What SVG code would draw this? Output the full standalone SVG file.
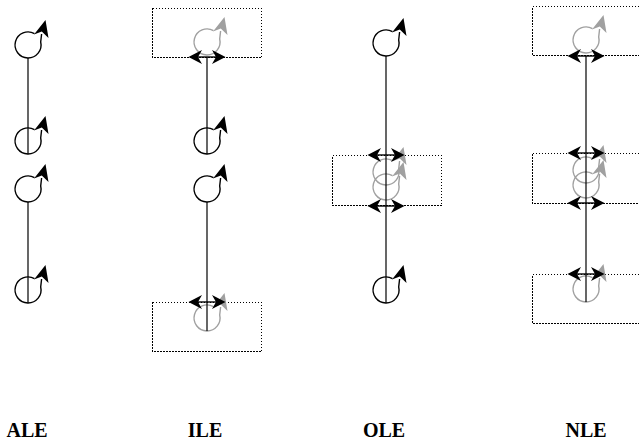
<svg xmlns="http://www.w3.org/2000/svg" xmlns:xlink="http://www.w3.org/1999/xlink" width="639" height="443" viewBox="0 0 639 443">
<style>
.box{fill:none;stroke:#000;stroke-width:1;stroke-dasharray:1.5 1.5;shape-rendering:crispEdges}
.ln{stroke:#000;stroke-width:1.2;fill:none}
.lbl{font-family:"Liberation Serif","Times New Roman",serif;font-weight:bold;font-size:20px;text-anchor:middle;fill:#000}
.blk{stroke:#000;fill:#000}
.gry{stroke:#a0a0a0;fill:#a0a0a0}
</style>
<defs>
<g id="loop">
<path d="M6.5,-11.3 A13 13 0 1 0 12.7,-3 L13.6,-11" fill="none" stroke-width="1.4"/>
<polygon points="17.5,-25 6,-10.5 13.8,-13.5 20.5,-7" stroke="none"/>
</g>
<g id="dbl">
<line x1="-15" y1="0" x2="15" y2="0" stroke="#000" stroke-width="1.4"/>
<polygon points="18.5,0 5,-7 9,0 5,7" fill="#000"/>
<polygon points="-18.5,0 -5,-7 -9,0 -5,7" fill="#000"/>
</g>
</defs>
<g id="boxes">
<rect class="box" x="152.5" y="8.5" width="109" height="49"/>
<rect class="box" x="152.5" y="302.5" width="109" height="49"/>
<rect class="box" x="332.5" y="155.5" width="109" height="50"/>
<rect class="box" x="532.5" y="6.5" width="110" height="49"/>
<rect class="box" x="532.5" y="153.5" width="110" height="50"/>
<rect class="box" x="532.5" y="274.5" width="110" height="49"/>
</g>
<g id="ile-n1" class="gry"><use xlink:href="#loop" href="#loop" x="207" y="42"/></g>
<g id="ile-n4" class="gry"><use xlink:href="#loop" href="#loop" x="207" y="318"/></g>
<g id="ole-n2" class="gry"><use xlink:href="#loop" href="#loop" x="386" y="172"/></g>
<g id="ole-n3" class="gry"><use xlink:href="#loop" href="#loop" x="386" y="187"/></g>
<g id="nle-n1" class="gry"><use xlink:href="#loop" href="#loop" x="586" y="40"/></g>
<g id="nle-n2" class="gry"><use xlink:href="#loop" href="#loop" x="586" y="170"/></g>
<g id="nle-n3" class="gry"><use xlink:href="#loop" href="#loop" x="586" y="185"/></g>
<g id="nle-n4" class="gry"><use xlink:href="#loop" href="#loop" x="586" y="289"/></g>
<g id="ale-n1" class="blk"><use xlink:href="#loop" href="#loop" x="28" y="45"/></g>
<g id="ale-n2" class="blk"><use xlink:href="#loop" href="#loop" x="28" y="141"/></g>
<g id="ale-n3" class="blk"><use xlink:href="#loop" href="#loop" x="28" y="189"/></g>
<g id="ale-n4" class="blk"><use xlink:href="#loop" href="#loop" x="28" y="290"/></g>
<g id="ile-n2" class="blk"><use xlink:href="#loop" href="#loop" x="207" y="141"/></g>
<g id="ile-n3" class="blk"><use xlink:href="#loop" href="#loop" x="207" y="189"/></g>
<g id="ole-n1" class="blk"><use xlink:href="#loop" href="#loop" x="386" y="43"/></g>
<g id="ole-n4" class="blk"><use xlink:href="#loop" href="#loop" x="386" y="290"/></g>
<g id="connectors">
<line class="ln" x1="28" y1="58" x2="28" y2="154"/>
<line class="ln" x1="28" y1="202" x2="28" y2="303"/>
<line class="ln" x1="207" y1="57" x2="207" y2="154"/>
<line class="ln" x1="207" y1="202" x2="207" y2="331"/>
<line class="ln" x1="386" y1="56" x2="386" y2="303"/>
<line class="ln" x1="586" y1="56" x2="586" y2="302"/>
<use xlink:href="#dbl" href="#dbl" x="207" y="57"/>
<use xlink:href="#dbl" href="#dbl" x="207" y="302"/>
<use xlink:href="#dbl" href="#dbl" x="386" y="155"/>
<use xlink:href="#dbl" href="#dbl" x="386" y="206"/>
<use xlink:href="#dbl" href="#dbl" x="586" y="56"/>
<use xlink:href="#dbl" href="#dbl" x="586" y="153"/>
<use xlink:href="#dbl" href="#dbl" x="586" y="203"/>
<use xlink:href="#dbl" href="#dbl" x="586" y="274"/>
</g>
<g id="labels">
<text class="lbl" x="27" y="437">ALE</text>
<text class="lbl" x="205" y="437">ILE</text>
<text class="lbl" x="384" y="437">OLE</text>
<text class="lbl" x="586" y="437">NLE</text>
</g>
</svg>
